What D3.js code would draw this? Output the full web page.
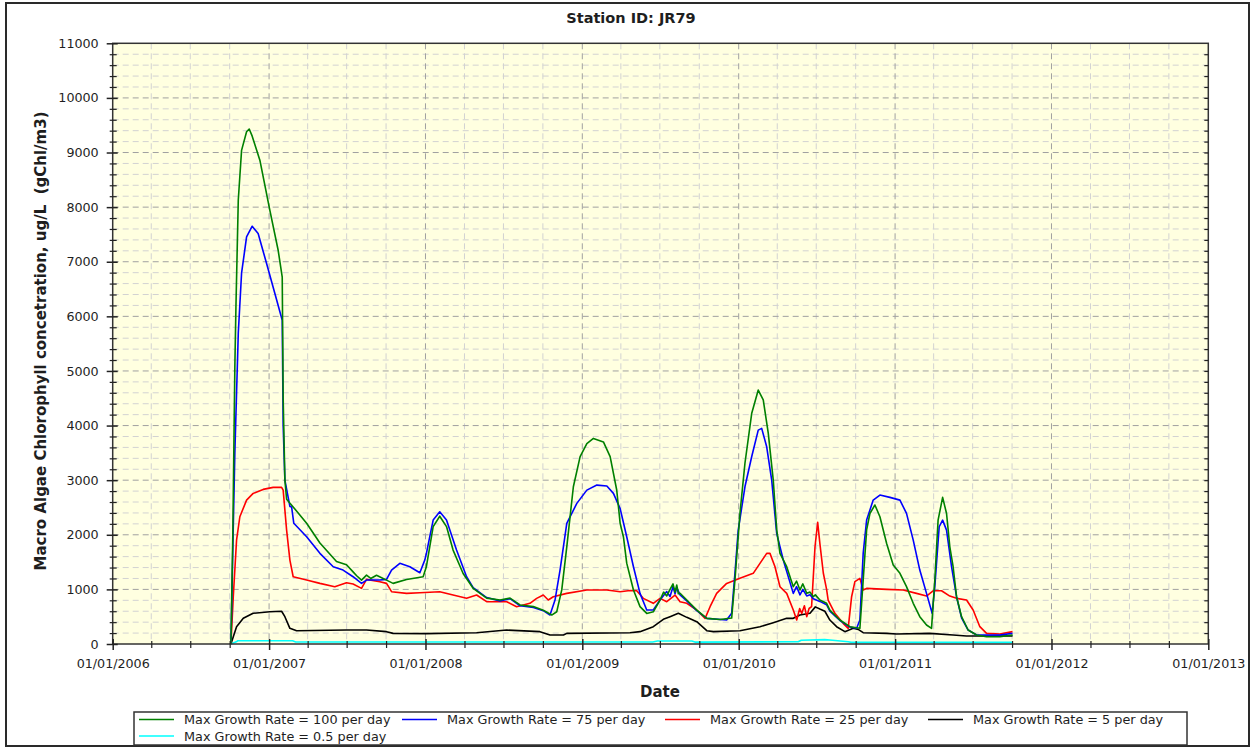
<!DOCTYPE html>
<html>
<head>
<meta charset="utf-8">
<script src="https://cdn.jsdelivr.net/npm/d3@7"></script>
<style>
  body { margin: 0; background: #fff; }
  text { font-family: Tahoma, "DejaVu Sans", sans-serif; fill: #1e1e1e; }
</style>
</head>
<body>
<svg width="1253" height="750"></svg>
<script>
// series: [decimal year, value in ug/L]
var green100 = [[2006.756,0],[2006.768,2000],[2006.781,5070],[2006.788,6170],[2006.803,8130],[2006.824,9040],[2006.856,9380],[2006.873,9430],[2006.892,9300],[2006.941,8860],[2007.005,7940],[2007.058,7210],[2007.084,6720],[2007.090,4500],[2007.101,3000],[2007.112,2650],[2007.154,2510],[2007.240,2210],[2007.325,1850],[2007.431,1510],[2007.495,1450],[2007.537,1320],[2007.560,1250],[2007.591,1170],[2007.623,1260],[2007.650,1200],[2007.687,1260],[2007.729,1200],[2007.751,1170],[2007.793,1110],[2007.879,1180],[2007.985,1230],[2008.006,1420],[2008.049,2150],[2008.091,2340],[2008.134,2150],[2008.176,1720],[2008.240,1290],[2008.304,1020],[2008.390,840],[2008.475,805],[2008.539,840],[2008.603,715],[2008.688,685],[2008.751,620],[2008.805,530],[2008.837,590],[2008.869,990],[2008.901,1780],[2008.943,2880],[2008.986,3430],[2009.029,3670],[2009.071,3765],[2009.135,3700],[2009.178,3430],[2009.220,2820],[2009.242,2210],[2009.263,1960],[2009.284,1480],[2009.327,990],[2009.369,685],[2009.412,560],[2009.454,590],[2009.497,805],[2009.520,950],[2009.540,880],[2009.561,1000],[2009.580,1100],[2009.593,950],[2009.604,1080],[2009.614,920],[2009.625,930],[2009.668,805],[2009.732,620],[2009.796,470],[2009.881,450],[2009.955,475],[2009.976,1170],[2010.008,2390],[2010.040,3310],[2010.083,4220],[2010.125,4650],[2010.157,4470],[2010.189,3860],[2010.221,3000],[2010.243,2090],[2010.264,1660],[2010.307,1415],[2010.349,1050],[2010.370,1150],[2010.392,990],[2010.410,1100],[2010.435,930],[2010.456,950],[2010.477,866],[2010.490,900],[2010.519,805],[2010.562,745],[2010.583,620],[2010.647,440],[2010.711,317],[2010.775,287],[2010.796,1170],[2010.818,2090],[2010.839,2390],[2010.871,2545],[2010.903,2330],[2010.946,1840],[2010.988,1445],[2011.031,1295],[2011.073,1050],[2011.116,745],[2011.158,500],[2011.201,348],[2011.233,287],[2011.254,1170],[2011.275,2270],[2011.304,2685],[2011.329,2390],[2011.350,1780],[2011.371,1415],[2011.393,866],[2011.425,500],[2011.467,256],[2011.521,165],[2011.585,134],[2011.670,134],[2011.751,165]];

var blue75 = [[2006.756,0],[2006.770,2000],[2006.781,3500],[2006.792,4600],[2006.803,5690],[2006.824,6790],[2006.856,7455],[2006.892,7650],[2006.930,7516],[2006.984,6967],[2007.037,6418],[2007.084,5930],[2007.090,4000],[2007.101,3000],[2007.133,2520],[2007.144,2510],[2007.158,2210],[2007.240,1964],[2007.325,1660],[2007.410,1415],[2007.473,1354],[2007.537,1232],[2007.591,1110],[2007.623,1171],[2007.708,1171],[2007.751,1184],[2007.783,1354],[2007.836,1477],[2007.900,1415],[2007.964,1305],[2007.996,1540],[2008.006,1660],[2008.027,1960],[2008.049,2270],[2008.091,2420],[2008.134,2270],[2008.198,1720],[2008.262,1232],[2008.304,1030],[2008.390,850],[2008.475,790],[2008.539,830],[2008.603,700],[2008.688,670],[2008.751,610],[2008.794,531],[2008.826,805],[2008.858,1354],[2008.901,2209],[2008.965,2575],[2009.029,2818],[2009.093,2910],[2009.157,2892],[2009.199,2758],[2009.242,2480],[2009.284,1964],[2009.327,1415],[2009.369,927],[2009.412,622],[2009.454,622],[2009.497,805],[2009.540,960],[2009.561,870],[2009.580,1050],[2009.593,920],[2009.604,1030],[2009.625,900],[2009.668,790],[2009.732,610],[2009.796,470],[2009.923,439],[2009.955,562],[2009.976,1294],[2009.997,2086],[2010.040,2879],[2010.083,3428],[2010.125,3917],[2010.147,3948],[2010.179,3611],[2010.211,3001],[2010.243,2025],[2010.285,1537],[2010.349,927],[2010.370,1050],[2010.392,900],[2010.410,1000],[2010.435,880],[2010.456,900],[2010.477,830],[2010.519,780],[2010.562,720],[2010.583,600],[2010.647,430],[2010.711,310],[2010.754,287],[2010.775,439],[2010.796,1660],[2010.818,2269],[2010.860,2635],[2010.903,2727],[2010.967,2685],[2011.031,2635],[2011.073,2392],[2011.116,1903],[2011.158,1354],[2011.201,927],[2011.237,562],[2011.254,1049],[2011.282,2147],[2011.304,2269],[2011.329,2086],[2011.361,1415],[2011.393,866],[2011.425,480],[2011.467,256],[2011.521,165],[2011.670,165],[2011.751,195]];

var red25 = [[2006.756,0],[2006.771,866],[2006.792,1903],[2006.813,2330],[2006.856,2635],[2006.898,2758],[2006.962,2831],[2007.026,2868],[2007.080,2868],[2007.090,2818],[2007.112,2086],[2007.133,1537],[2007.154,1232],[2007.240,1171],[2007.325,1110],[2007.420,1049],[2007.495,1122],[2007.537,1098],[2007.591,1019],[2007.623,1184],[2007.708,1141],[2007.751,1110],[2007.783,958],[2007.879,927],[2007.964,939],[2008.091,958],[2008.176,897],[2008.262,836],[2008.326,897],[2008.390,775],[2008.518,775],[2008.581,683],[2008.666,745],[2008.709,836],[2008.751,897],[2008.783,805],[2008.815,866],[2008.901,927],[2009.029,988],[2009.157,988],[2009.242,958],[2009.305,980],[2009.348,975],[2009.390,836],[2009.454,745],[2009.497,836],[2009.540,775],[2009.593,897],[2009.625,775],[2009.668,745],[2009.732,622],[2009.785,470],[2009.817,683],[2009.859,927],[2009.923,1110],[2010.008,1202],[2010.093,1294],[2010.136,1477],[2010.179,1660],[2010.200,1660],[2010.232,1415],[2010.264,1049],[2010.307,927],[2010.349,622],[2010.371,439],[2010.390,650],[2010.403,560],[2010.420,700],[2010.435,500],[2010.450,650],[2010.466,683],[2010.488,1781],[2010.505,2230],[2010.519,1843],[2010.541,1300],[2010.562,1000],[2010.572,805],[2010.615,562],[2010.668,378],[2010.700,287],[2010.722,866],[2010.743,1141],[2010.775,1202],[2010.796,988],[2010.818,1019],[2010.946,1000],[2011.052,988],[2011.137,927],[2011.201,878],[2011.243,975],[2011.297,975],[2011.350,878],[2011.393,836],[2011.457,805],[2011.499,622],[2011.542,317],[2011.585,195],[2011.670,183],[2011.751,226]];

var black5 = [[2006.756,0],[2006.792,317],[2006.835,470],[2006.898,562],[2007.005,591],[2007.080,600],[2007.101,500],[2007.133,287],[2007.176,244],[2007.495,256],[2007.623,256],[2007.751,226],[2007.793,195],[2008.006,190],[2008.326,207],[2008.518,256],[2008.730,226],[2008.794,165],[2008.880,165],[2008.901,195],[2009.305,207],[2009.369,226],[2009.454,317],[2009.518,452],[2009.561,500],[2009.614,562],[2009.668,488],[2009.732,409],[2009.796,244],[2009.838,226],[2010.008,244],[2010.136,317],[2010.221,391],[2010.307,470],[2010.349,470],[2010.392,531],[2010.456,562],[2010.490,680],[2010.519,640],[2010.551,600],[2010.583,439],[2010.626,317],[2010.679,226],[2010.732,287],[2010.764,268],[2010.796,207],[2010.946,195],[2011.010,183],[2011.222,195],[2011.371,165],[2011.457,146],[2011.751,146]];

var cyan05 = [[2006.756,0],[2006.790,40],[2006.800,60],[2007.150,60],[2007.170,38],[2009.450,38],[2009.480,55],[2009.700,55],[2009.720,35],[2010.380,40],[2010.400,70],[2010.550,80],[2010.600,70],[2010.700,40],[2010.720,30],[2011.751,30]];

var seriesNames = ["Max Growth Rate = 100 per day", "Max Growth Rate = 75 per day", "Max Growth Rate = 25 per day", "Max Growth Rate = 5 per day", "Max Growth Rate = 0.5 per day"];
var seriesColors = ["#008000", "#0000ff", "#ff0000", "#000000", "#00ffff"];
var seriesData = [green100, blue75, red25, black5, cyan05];

var svg = d3.select("svg");

var pLeft = 112.7, pRight = 1208.3, pTop = 43.3, pBottom = 644;

// decimal year -> Date
function dec(t) {
  var yr = Math.floor(t);
  var a = Date.UTC(yr, 0, 1), b = Date.UTC(yr + 1, 0, 1);
  return new Date(a + (t - yr) * (b - a));
}

var x = d3.scaleUtc()
    .domain([new Date(Date.UTC(2006, 0, 1)), new Date(Date.UTC(2013, 0, 1))])
    .range([pLeft, pRight]);
var y = d3.scaleLinear().domain([0, 11000]).range([pBottom, pTop]);

// outer frame
svg.append("rect")
    .attr("x", 6).attr("y", 3).attr("width", 1243).attr("height", 743)
    .attr("fill", "none").attr("stroke", "#2a2a2a").attr("stroke-width", 2);

// plot background
svg.append("rect")
    .attr("x", pLeft).attr("y", pTop)
    .attr("width", pRight - pLeft).attr("height", pBottom - pTop)
    .attr("fill", "#ffffe0");

var yearTicks = x.ticks(d3.utcYear.every(1));
var quarterTicks = x.ticks(d3.utcMonth.every(3)).filter(function(d) { return d.getUTCMonth() != 0; });
var majorY = d3.range(1000, 11001, 1000);
var minorY = d3.range(200, 11000, 200).filter(function(v) { return v % 1000 != 0; });

var grid = svg.append("g");
grid.selectAll(".vminor").data(quarterTicks).enter().append("line")
    .attr("x1", function(d) { return x(d); }).attr("x2", function(d) { return x(d); })
    .attr("y1", pTop).attr("y2", pBottom)
    .attr("stroke", "#d2d2d2").attr("stroke-dasharray", "6,4");
grid.selectAll(".hminor").data(minorY).enter().append("line")
    .attr("x1", pLeft).attr("x2", pRight)
    .attr("y1", function(d) { return y(d); }).attr("y2", function(d) { return y(d); })
    .attr("stroke", "#d2d2d2").attr("stroke-dasharray", "6,4");
grid.selectAll(".vmajor").data(yearTicks.slice(1, -1)).enter().append("line")
    .attr("x1", function(d) { return x(d); }).attr("x2", function(d) { return x(d); })
    .attr("y1", pTop).attr("y2", pBottom)
    .attr("stroke", "#a0a0a0").attr("stroke-dasharray", "6,4");
grid.selectAll(".hmajor").data(majorY.slice(0, -1)).enter().append("line")
    .attr("x1", pLeft).attr("x2", pRight)
    .attr("y1", function(d) { return y(d); }).attr("y2", function(d) { return y(d); })
    .attr("stroke", "#a0a0a0").attr("stroke-dasharray", "6,4");

// lines
var line = d3.line()
    .x(function(d) { return x(dec(d[0])); })
    .y(function(d) { return y(d[1]); });

var drawOrder = [4, 3, 2, 1, 0];
drawOrder.forEach(function(i) {
  svg.append("path")
      .datum(seriesData[i])
      .attr("fill", "none")
      .attr("stroke", seriesColors[i])
      .attr("stroke-width", 1.6)
      .attr("stroke-linejoin", "round")
      .attr("d", line);
});

// plot border
svg.append("rect")
    .attr("x", pLeft).attr("y", pTop)
    .attr("width", pRight - pLeft).attr("height", pBottom - pTop)
    .attr("fill", "none").attr("stroke", "#333").attr("stroke-width", 1.5);

// axes
var xMajor = d3.axisBottom(x).tickValues(yearTicks).tickSizeInner(6).tickSizeOuter(0)
    .tickFormat(d3.utcFormat("%d/%m/%Y"));
var gx = svg.append("g").attr("transform", "translate(0," + pBottom + ")").call(xMajor);
gx.select(".domain").remove();
gx.selectAll(".tick line").attr("y1", -5).attr("y2", 6).attr("stroke", "#222").attr("stroke-width", 1.5);
gx.selectAll(".tick text").attr("dy", 0).attr("y", 24).style("font-size", "12.7px");

var gxm = svg.append("g").attr("transform", "translate(0," + pBottom + ")")
    .call(d3.axisBottom(x).tickValues(quarterTicks).tickSize(4).tickFormat(""));
gxm.select(".domain").remove();
gxm.selectAll(".tick line").attr("y1", -3).attr("y2", 4).attr("stroke", "#222").attr("stroke-width", 1.2);

var yMajor = d3.axisLeft(y).tickValues(d3.range(0, 11001, 1000)).tickSizeInner(6).tickSizeOuter(0)
    .tickFormat(d3.format("d"));
var gy = svg.append("g").attr("transform", "translate(" + pLeft + ",0)").call(yMajor);
gy.select(".domain").remove();
gy.selectAll(".tick line").attr("x1", -6).attr("x2", 5).attr("stroke", "#222").attr("stroke-width", 1.5);
gy.selectAll(".tick text").attr("x", -14).style("font-size", "12.7px");

var gym = svg.append("g").attr("transform", "translate(" + pLeft + ",0)")
    .call(d3.axisLeft(y).tickValues(minorY).tickSize(4).tickFormat(""));
gym.select(".domain").remove();
gym.selectAll(".tick line").attr("x1", -3).attr("x2", 4).attr("stroke", "#222").attr("stroke-width", 1.2);

var gyr = svg.append("g").attr("transform", "translate(" + pRight + ",0)")
    .call(d3.axisLeft(y).tickValues(d3.range(200, 11000, 200)).tickSize(4).tickFormat(""));
gyr.select(".domain").remove();
gyr.selectAll(".tick line").attr("stroke", "#222").attr("stroke-width", 1.2);

// titles
svg.append("text").attr("x", 631).attr("y", 23).attr("text-anchor", "middle")
    .style("font-weight", "bold").style("font-size", "14.5px").text("Station ID: JR79");
svg.append("text").attr("x", 660).attr("y", 697).attr("text-anchor", "middle")
    .style("font-weight", "bold").style("font-size", "15px").text("Date");
svg.append("text")
    .attr("transform", "translate(46,341) rotate(-90)")
    .attr("text-anchor", "middle")
    .style("font-weight", "bold").style("font-size", "15px").style("white-space", "pre")
    .text("Macro Algae Chlorophyll concetration, ug/L  (gChl/m3)");

// legend
var lg = svg.append("g");
lg.append("rect").attr("x", 134).attr("y", 712).attr("width", 1053).attr("height", 33)
    .attr("fill", "#fff").attr("stroke", "#333").attr("stroke-width", 1.5);
seriesNames.forEach(function(name, i) {
  var col = i % 4, row = Math.floor(i / 4);
  var lx = 139 + col * 263, ly = 719.5 + row * 16.5;
  lg.append("line").attr("x1", lx).attr("x2", lx + 35).attr("y1", ly).attr("y2", ly)
      .attr("stroke", seriesColors[i]).attr("stroke-width", 1.5);
  lg.append("text").attr("x", lx + 45).attr("y", ly + 4.5)
      .style("font-size", "12.8px").text(name);
});
</script>
</body>
</html>
